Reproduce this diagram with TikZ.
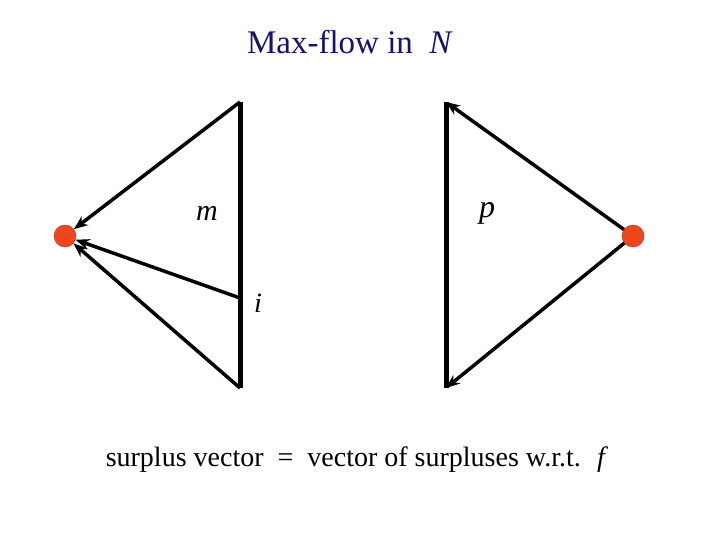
\documentclass[tikz,border=0pt]{standalone}
\usepackage{fontspec}
\setmainfont{Liberation Serif}
\usetikzlibrary{arrows.meta}
\definecolor{navy}{RGB}{20,20,110}
\definecolor{dotred}{RGB}{240,70,30}
\begin{document}
\begin{tikzpicture}[x=1pt,y=-1pt,
  bar/.style={line width=5pt},
  edge/.style={line width=3.5pt,-{Stealth[length=14pt,width=11pt]}},
  dot/.style={circle,fill=dotred,draw=dotred!70!black,inner sep=0pt,minimum size=22pt}]
\useasboundingbox (0,0) rectangle (720,540);
\node[text=navy,font=\fontsize{33}{36}\selectfont] (t) at (350,42) {Max-flow in \ \textit{N}};
\node[dot] (L) at (65,236) {};
\node[dot] (R) at (633,236) {};
\coordinate (a1) at (240,102); \coordinate (a2) at (240,388); \coordinate (ai) at (240,298);
\coordinate (b1) at (446,102); \coordinate (b2) at (446,388);
\draw[bar] (a1) -- (a2);
\draw[bar] (b1) -- (b2);
\draw[edge] (a1) -- (L);
\draw[edge] (ai) -- (L);
\draw[edge] (a2) -- (L);
\draw[edge] (R) -- (b1);
\draw[edge] (R) -- (b2);
\node[font=\fontsize{30}{32}\selectfont\itshape] (m) at (207,213) {m};
\node[font=\fontsize{32}{34}\selectfont\itshape] (p) at (487,213) {p};
\node[font=\fontsize{28}{30}\selectfont\itshape] (i) at (258,303) {i};
\node[font=\fontsize{28}{30}\selectfont] (s) at (357,460) {surplus vector \ = \ vector of surpluses w.r.t. \ \textit{f}};
\end{tikzpicture}
\end{document}
